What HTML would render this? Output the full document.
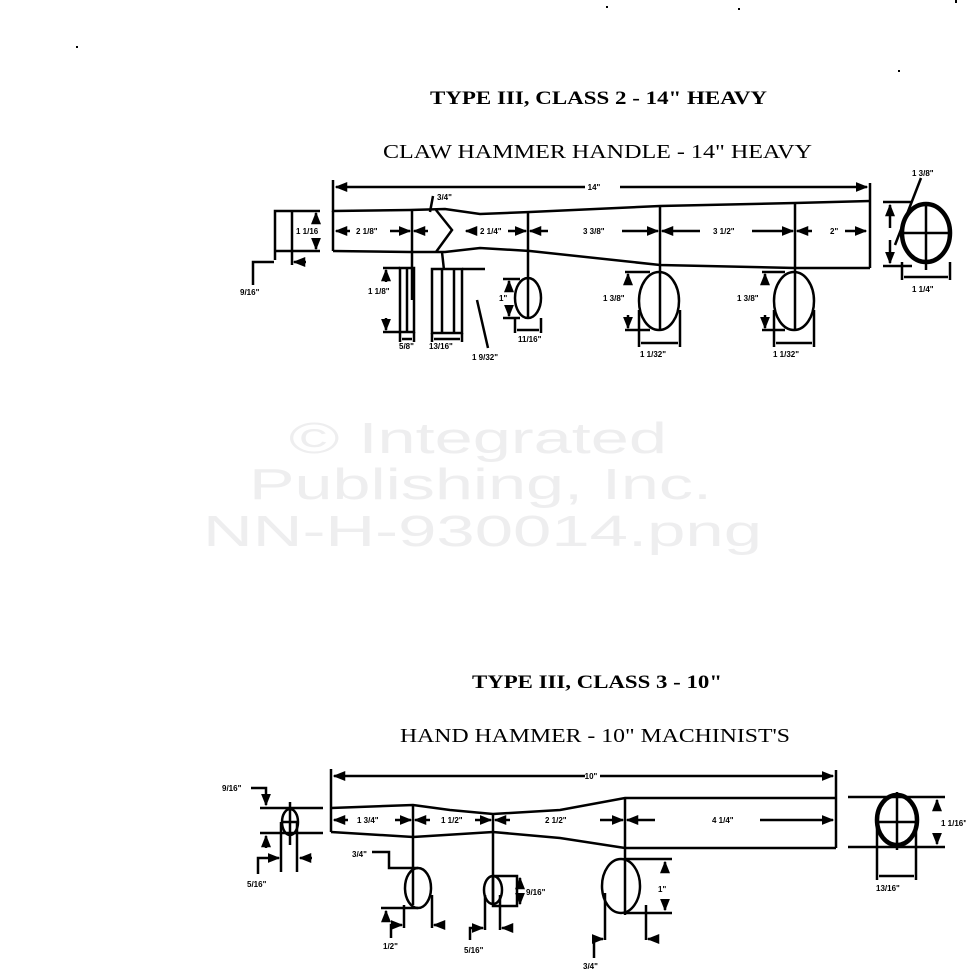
<!DOCTYPE html>
<html><head><meta charset="utf-8"><style>
html,body{margin:0;padding:0;background:#fff;}
svg{display:block;}
text{font-family:"Liberation Serif",serif;fill:#000;}
.s{font-family:"Liberation Sans",sans-serif;font-size:8px;font-weight:bold;}
.wm{font-family:"Liberation Sans",sans-serif;font-size:44px;fill:#eeeeef;}
</style></head><body>
<svg width="966" height="971" viewBox="0 0 966 971" xmlns="http://www.w3.org/2000/svg">
<defs>
<marker id="a" viewBox="0 0 10 10" refX="9" refY="5" markerWidth="5" markerHeight="5" orient="auto-start-reverse"><path d="M0,1 L10,5 L0,9 z" fill="#000"/></marker>
</defs>
<!-- watermark -->
<text class="wm" x="289" y="453" textLength="378" lengthAdjust="spacingAndGlyphs">© Integrated</text>
<text class="wm" x="249" y="499" textLength="463" lengthAdjust="spacingAndGlyphs">Publishing, Inc.</text>
<text class="wm" x="203" y="546" textLength="559" lengthAdjust="spacingAndGlyphs">NN-H-930014.png</text>

<!-- stray dots -->
<g fill="#000"><rect x="76" y="46" width="2" height="2"/><rect x="606" y="6" width="2" height="2"/><rect x="738" y="8" width="2" height="2"/><rect x="898" y="70" width="2" height="2"/><rect x="955" y="0" width="2" height="3"/></g>

<!-- TOP -->
<text x="430" y="104" font-size="19" font-weight="bold" textLength="337" lengthAdjust="spacingAndGlyphs">TYPE III, CLASS 2 - 14" HEAVY</text>
<text x="383" y="158" font-size="20" textLength="429" lengthAdjust="spacingAndGlyphs">CLAW HAMMER HANDLE - 14" HEAVY</text>

<g stroke="#000" stroke-width="2.5" fill="none">
<line x1="333" y1="180" x2="333" y2="212"/>
<line x1="870" y1="183" x2="870" y2="268"/>
<line x1="336" y1="187" x2="585" y2="187" marker-start="url(#a)"/>
<line x1="620" y1="187" x2="867" y2="187" marker-end="url(#a)"/>
<path d="M333,211 L410,210 L445,209 L480,214 L530,212 L660,206 L795,203 L870,201"/>
<path d="M333,251 L410,252 L445,252 L480,248 L530,251 L660,265 L795,268 L870,268"/>
<line x1="333" y1="211" x2="333" y2="251"/>
<path d="M436,210 L452,230 L436,252" />
<line x1="412" y1="209" x2="412" y2="300"/>
<line x1="442" y1="252" x2="444" y2="270"/>
<line x1="528" y1="212" x2="528" y2="318"/>
<line x1="660" y1="205" x2="660" y2="330"/>
<line x1="795" y1="203" x2="795" y2="330"/>
<line x1="390" y1="231" x2="410" y2="231" marker-end="url(#a)"/>
<line x1="414" y1="231" x2="428" y2="231" marker-start="url(#a)"/>
<line x1="466" y1="231" x2="474" y2="231" marker-start="url(#a)"/>
<line x1="508" y1="231" x2="526" y2="231" marker-end="url(#a)"/>
<line x1="530" y1="231" x2="548" y2="231" marker-start="url(#a)"/>
<line x1="622" y1="231" x2="658" y2="231" marker-end="url(#a)"/>
<line x1="662" y1="231" x2="700" y2="231" marker-start="url(#a)"/>
<line x1="752" y1="231" x2="793" y2="231" marker-end="url(#a)"/>
<line x1="797" y1="231" x2="812" y2="231" marker-start="url(#a)"/>
<line x1="845" y1="231" x2="866" y2="231" marker-end="url(#a)"/>
<line x1="336" y1="231" x2="350" y2="231" marker-start="url(#a)"/>
<line x1="430" y1="212" x2="433" y2="196"/>
<path d="M275,260 L275,211 L320,211"/>
<line x1="275" y1="251" x2="320" y2="251"/>
<line x1="292" y1="211" x2="292" y2="265"/>
<line x1="316" y1="213" x2="316" y2="220" marker-start="url(#a)"/>
<line x1="316" y1="242" x2="316" y2="249" marker-end="url(#a)"/>
<path d="M253,285 L253,262 L274,262"/>
<line x1="294" y1="262" x2="306" y2="262" marker-start="url(#a)"/>
<rect x="400" y="268" width="14" height="64"/>
<line x1="383" y1="268" x2="400" y2="268"/><line x1="383" y1="332" x2="400" y2="332"/>
<line x1="386" y1="270" x2="386" y2="282" marker-start="url(#a)"/>
<line x1="386" y1="318" x2="386" y2="330" marker-end="url(#a)"/>
<line x1="407" y1="268" x2="407" y2="332"/>
<line x1="400" y1="332" x2="400" y2="342"/><line x1="414" y1="332" x2="414" y2="342"/>
<line x1="402" y1="339" x2="412" y2="339"/>
<rect x="432" y="269" width="30" height="64"/>
<line x1="442" y1="269" x2="442" y2="333"/><line x1="454" y1="269" x2="454" y2="333"/>
<line x1="462" y1="269" x2="485" y2="269"/>
<line x1="432" y1="333" x2="432" y2="342"/><line x1="462" y1="333" x2="462" y2="342"/>
<line x1="434" y1="339" x2="460" y2="339"/>
<line x1="477" y1="300" x2="488" y2="348"/>
<ellipse cx="528" cy="298" rx="13" ry="20"/>
<line x1="503" y1="279" x2="520" y2="279"/><line x1="503" y1="318" x2="520" y2="318"/>
<line x1="509" y1="281" x2="509" y2="288" marker-start="url(#a)"/>
<line x1="509" y1="308" x2="509" y2="316" marker-end="url(#a)"/>
<line x1="515" y1="318" x2="515" y2="333"/><line x1="541" y1="318" x2="541" y2="333"/>
<line x1="517" y1="330" x2="539" y2="330"/>
<ellipse cx="659" cy="301" rx="20" ry="29"/>
<line x1="625" y1="272" x2="650" y2="272"/><line x1="625" y1="330" x2="650" y2="330"/>
<line x1="628" y1="274" x2="628" y2="285" marker-start="url(#a)"/>
<line x1="628" y1="315" x2="628" y2="328" marker-end="url(#a)"/>
<line x1="639" y1="310" x2="639" y2="347"/><line x1="680" y1="310" x2="680" y2="347"/>
<line x1="641" y1="343" x2="678" y2="343"/>
<ellipse cx="794" cy="301" rx="20" ry="29"/>
<line x1="762" y1="272" x2="785" y2="272"/><line x1="762" y1="330" x2="785" y2="330"/>
<line x1="765" y1="274" x2="765" y2="285" marker-start="url(#a)"/>
<line x1="765" y1="315" x2="765" y2="328" marker-end="url(#a)"/>
<line x1="774" y1="310" x2="774" y2="347"/><line x1="814" y1="310" x2="814" y2="347"/>
<line x1="776" y1="343" x2="812" y2="343"/>
<ellipse cx="926" cy="233" rx="24" ry="29" stroke-width="4.5"/>
<line x1="902" y1="233" x2="950" y2="233"/><line x1="926" y1="203" x2="926" y2="270"/>
<line x1="883" y1="202" x2="912" y2="202"/><line x1="883" y1="266" x2="912" y2="266"/>
<line x1="890" y1="205" x2="890" y2="228" marker-start="url(#a)"/>
<line x1="890" y1="240" x2="890" y2="263" marker-end="url(#a)"/>
<line x1="895" y1="245" x2="921" y2="178"/>
<line x1="902" y1="262" x2="902" y2="280"/><line x1="950" y1="262" x2="950" y2="280"/>
<line x1="904" y1="277" x2="948" y2="277"/>
</g>
<g class="s">
<text x="594" y="190" class="s" text-anchor="middle">14"</text>
<text x="296" y="234" class="s">1 1/16</text>
<text x="356" y="234" class="s">2 1/8"</text>
<text x="480" y="234" class="s">2 1/4"</text>
<text x="583" y="234" class="s">3 3/8"</text>
<text x="713" y="234" class="s">3 1/2"</text>
<text x="830" y="234" class="s">2"</text>
<text x="437" y="200" class="s">3/4"</text>
<text x="240" y="295" class="s">9/16"</text>
<text x="368" y="294" class="s">1 1/8"</text>
<text x="399" y="349" class="s">5/8"</text>
<text x="429" y="349" class="s">13/16"</text>
<text x="472" y="360" class="s">1 9/32"</text>
<text x="499" y="301" class="s">1"</text>
<text x="518" y="342" class="s">11/16"</text>
<text x="603" y="301" class="s">1 3/8"</text>
<text x="737" y="301" class="s">1 3/8"</text>
<text x="640" y="357" class="s">1 1/32"</text>
<text x="773" y="357" class="s">1 1/32"</text>
<text x="912" y="176" class="s">1 3/8"</text>
<text x="912" y="292" class="s">1 1/4"</text>
</g>

<!-- BOTTOM -->
<text x="472" y="688" font-size="19" font-weight="bold" textLength="250" lengthAdjust="spacingAndGlyphs">TYPE III, CLASS 3 - 10"</text>
<text x="400" y="742" font-size="20" textLength="390" lengthAdjust="spacingAndGlyphs">HAND HAMMER - 10" MACHINIST'S</text>

<g stroke="#000" stroke-width="2.5" fill="none">
<line x1="331" y1="769" x2="331" y2="808"/>
<line x1="836" y1="770" x2="836" y2="848"/>
<line x1="334" y1="776" x2="585" y2="776" marker-start="url(#a)"/>
<line x1="600" y1="776" x2="833" y2="776" marker-end="url(#a)"/>
<path d="M331,808 L413,805 L450,810 L493,814 L560,810 L625,798 L836,798"/>
<path d="M331,832 L413,837 L493,832 L560,838 L625,848 L836,848"/>
<line x1="331" y1="808" x2="331" y2="832"/>
<line x1="413" y1="805" x2="413" y2="905"/>
<line x1="493" y1="814" x2="493" y2="905"/>
<line x1="625" y1="798" x2="625" y2="915"/>
<line x1="334" y1="820" x2="348" y2="820" marker-start="url(#a)"/>
<line x1="395" y1="820" x2="411" y2="820" marker-end="url(#a)"/>
<line x1="415" y1="820" x2="430" y2="820" marker-start="url(#a)"/>
<line x1="475" y1="820" x2="491" y2="820" marker-end="url(#a)"/>
<line x1="495" y1="820" x2="510" y2="820" marker-start="url(#a)"/>
<line x1="600" y1="820" x2="623" y2="820" marker-end="url(#a)"/>
<line x1="627" y1="820" x2="655" y2="820" marker-start="url(#a)"/>
<line x1="760" y1="820" x2="833" y2="820" marker-end="url(#a)"/>
<ellipse cx="290" cy="822" rx="8" ry="13"/>
<line x1="260" y1="808" x2="323" y2="808"/><line x1="260" y1="833" x2="323" y2="833"/>
<line x1="290" y1="802" x2="290" y2="845"/><line x1="282" y1="822" x2="298" y2="822"/>
<line x1="281" y1="822" x2="281" y2="872"/><line x1="297" y1="822" x2="297" y2="872"/>
<path d="M251,788 L266,788 L266,805" marker-end="url(#a)"/>
<line x1="266" y1="836" x2="266" y2="848" marker-start="url(#a)"/>
<path d="M258,874 L258,858 L279,858" marker-end="url(#a)"/>
<line x1="312" y1="858" x2="300" y2="858" marker-end="url(#a)"/>
<ellipse cx="418" cy="888" rx="13" ry="20"/>
<path d="M372,852 L389,852 L389,868 L418,868"/>
<line x1="381" y1="908" x2="418" y2="908"/>
<line x1="386" y1="911" x2="386" y2="920" marker-start="url(#a)"/>
<line x1="404" y1="905" x2="404" y2="928"/><line x1="432" y1="895" x2="432" y2="928"/>
<path d="M391,938 L391,925 L402,925" marker-end="url(#a)"/>
<line x1="434" y1="925" x2="441" y2="925" marker-start="url(#a)"/>
<ellipse cx="493" cy="890" rx="9" ry="14"/>
<rect x="493" y="876" width="24" height="30"/>
<line x1="520" y1="878" x2="520" y2="886" marker-start="url(#a)"/>
<line x1="520" y1="896" x2="520" y2="904" marker-end="url(#a)"/>
<line x1="485" y1="895" x2="485" y2="930"/><line x1="500" y1="895" x2="500" y2="930"/>
<path d="M470,940 L470,928 L483,928" marker-end="url(#a)"/>
<line x1="502" y1="928" x2="509" y2="928" marker-start="url(#a)"/>
<ellipse cx="621" cy="886" rx="19" ry="27"/>
<line x1="625" y1="859" x2="672" y2="859"/><line x1="625" y1="913" x2="672" y2="913"/>
<line x1="665" y1="862" x2="665" y2="873" marker-start="url(#a)"/>
<line x1="665" y1="899" x2="665" y2="910" marker-end="url(#a)"/>
<line x1="605" y1="893" x2="605" y2="940"/><line x1="646" y1="905" x2="646" y2="940"/>
<path d="M594,958 L594,939 L603,939" marker-end="url(#a)"/>
<line x1="648" y1="939" x2="655" y2="939" marker-start="url(#a)"/>
<ellipse cx="897" cy="820" rx="20" ry="25" stroke-width="4.5"/>
<line x1="848" y1="797" x2="945" y2="797"/><line x1="848" y1="847" x2="945" y2="847"/>
<line x1="897" y1="792" x2="897" y2="850"/><line x1="877" y1="822" x2="917" y2="822"/>
<line x1="937" y1="800" x2="937" y2="811" marker-start="url(#a)"/>
<line x1="937" y1="833" x2="937" y2="844" marker-end="url(#a)"/>
<line x1="877" y1="826" x2="877" y2="880"/><line x1="916" y1="826" x2="916" y2="880"/>
<line x1="879" y1="876" x2="914" y2="876"/>
</g>
<g class="s">
<text x="591" y="779" class="s" text-anchor="middle">10"</text>
<text x="357" y="823" class="s">1 3/4"</text>
<text x="441" y="823" class="s">1 1/2"</text>
<text x="545" y="823" class="s">2 1/2"</text>
<text x="712" y="823" class="s">4 1/4"</text>
<text x="222" y="791" class="s">9/16"</text>
<text x="247" y="887" class="s">5/16"</text>
<text x="352" y="857" class="s">3/4"</text>
<text x="383" y="949" class="s">1/2"</text>
<text x="464" y="953" class="s">5/16"</text>
<text x="526" y="895" class="s">9/16"</text>
<text x="658" y="892" class="s">1"</text>
<text x="583" y="969" class="s">3/4"</text>
<text x="941" y="826" class="s">1 1/16"</text>
<text x="876" y="891" class="s">13/16"</text>
</g>
</svg>
</body></html>
